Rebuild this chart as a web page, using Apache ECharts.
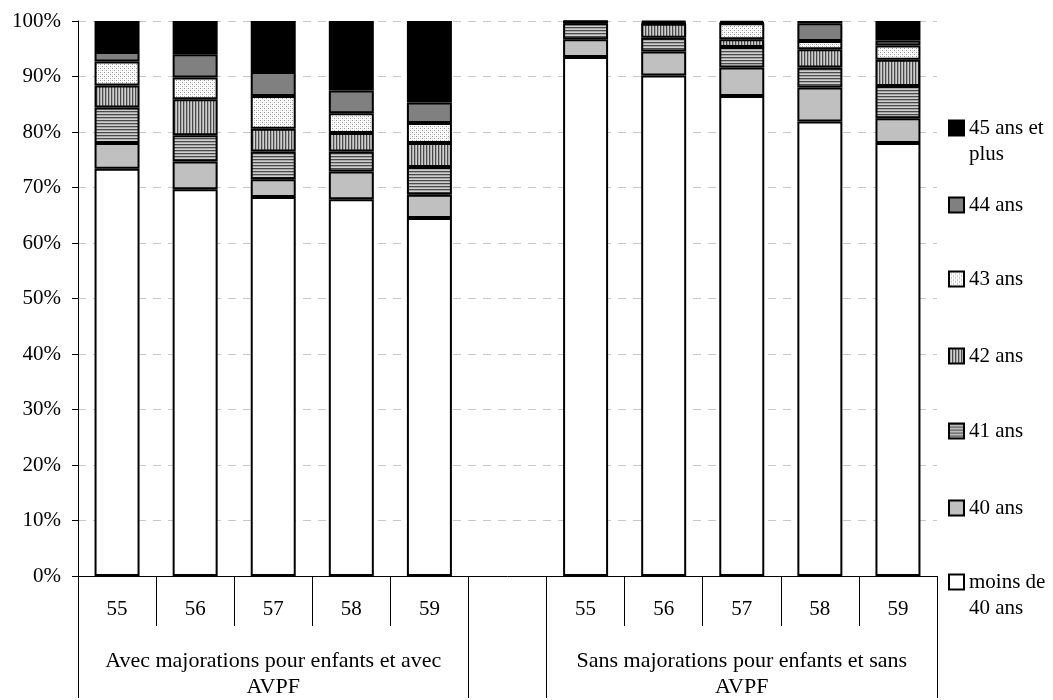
<!DOCTYPE html>
<html>
<head>
<meta charset="utf-8">
<script src="https://cdn.jsdelivr.net/npm/echarts@6/dist/echarts.min.js"></script>
<style>
html,body{margin:0;padding:0;background:#fff;}
#chart{width:1053px;height:700px;}
</style>
</head>
<body>
<div id="chart"></div>
<script>
// ---- data ----
const ageCats = ['55', '56', '57', '58', '59'];
const groupNames = ['Avec majorations pour enfants et avec\nAVPF', 'Sans majorations pour enfants et sans\nAVPF'];
const seriesNames = ['moins de 40 ans', '40 ans', '41 ans', '42 ans', '43 ans', '44 ans', '45 ans et plus'];
const legendLabels = ['moins de\n40 ans', '40 ans', '41 ans', '42 ans', '43 ans', '44 ans', '45 ans et\nplus'];
const yTickLabels = ['0%', '10%', '20%', '30%', '40%', '50%', '60%', '70%', '80%', '90%', '100%'];
// values in %, 5 "avec" bars then 5 "sans" bars
const vMoins40 = [73.4, 69.7, 68.3, 67.9, 64.5, 93.5, 90.2, 86.5, 81.9, 78.0];
const v40 = [4.6, 5.0, 3.2, 5.0, 4.2, 3.2, 4.3, 5.1, 6.1, 4.5];
const v41 = [6.4, 4.7, 5.0, 3.6, 5.0, 2.9, 2.5, 3.7, 3.6, 5.8];
const v42 = [4.0, 6.5, 4.1, 3.3, 4.3, 0.2, 2.5, 1.4, 3.3, 4.7];
const v43 = [4.3, 3.9, 5.9, 3.6, 3.6, 0.0, 0.1, 2.9, 1.5, 2.6];
const v44 = [1.7, 4.2, 4.3, 4.1, 3.7, 0.1, 0.2, 0.1, 3.2, 0.9];
const v45 = [5.6, 6.0, 9.2, 12.5, 14.7, 0.1, 0.2, 0.3, 0.4, 3.5];
const seriesValues = [vMoins40, v40, v41, v42, v43, v44, v45];

// ---- build axis / series data ----
const slotIds = [];
const slotLabels = [];
const groupSlotLabels = [];
ageCats.forEach((a, i) => { slotIds.push('g0_' + a); slotLabels.push(a); groupSlotLabels.push(i === 2 ? groupNames[0] : ''); });
slotIds.push('gap'); slotLabels.push(''); groupSlotLabels.push('');
ageCats.forEach((a, i) => { slotIds.push('g1_' + a); slotLabels.push(a); groupSlotLabels.push(i === 2 ? groupNames[1] : ''); });

function toSlots(arr) {
  return arr.slice(0, 5).concat(['-']).concat(arr.slice(5, 10));
}

function makePattern(w, h, draw) {
  const c = document.createElement('canvas');
  c.width = w; c.height = h;
  const ctx = c.getContext('2d');
  draw(ctx);
  return { image: c, repeat: 'repeat' };
}
const dotPattern = makePattern(4, 4, ctx => {
  ctx.fillStyle = '#ffffff'; ctx.fillRect(0, 0, 4, 4);
  ctx.fillStyle = '#999999'; ctx.fillRect(0, 0, 1, 1); ctx.fillRect(2, 2, 1, 1);
  ctx.fillStyle = '#d8d8d8'; ctx.fillRect(2, 0, 1, 1); ctx.fillRect(0, 2, 1, 1);
});
const vStripe = makePattern(3, 1, ctx => {
  ctx.fillStyle = '#4a4a4a'; ctx.fillRect(0, 0, 1, 1);
  ctx.fillStyle = '#a8a8a8'; ctx.fillRect(1, 0, 1, 1);
  ctx.fillStyle = '#cfcfcf'; ctx.fillRect(2, 0, 1, 1);
});
const hStripe = makePattern(1, 3, ctx => {
  ctx.fillStyle = '#4a4a4a'; ctx.fillRect(0, 0, 1, 1);
  ctx.fillStyle = '#a8a8a8'; ctx.fillRect(0, 1, 1, 1);
  ctx.fillStyle = '#cfcfcf'; ctx.fillRect(0, 2, 1, 1);
});
const fills = ['#ffffff', '#c0c0c0', hStripe, vStripe, dotPattern, '#808080', '#000000'];

const FONT = "'Liberation Serif', 'Times New Roman', serif";
const FS = 21;

const series = seriesNames.map((n, i) => ({
  name: n,
  type: 'bar',
  stack: 'total',
  barWidth: 45,
  xAxisIndex: 0,
  itemStyle: { color: fills[i], borderColor: '#000', borderWidth: 2 },
  emphasis: { disabled: true },
  data: toSlots(seriesValues[i])
}));

// legend: one component per item, icon centres (layout)
const legendCenters = [582, 508, 431, 356, 279, 205, 128];
const legends = seriesNames.map((n, i) => {
  const multi = legendLabels[i].indexOf('\n') >= 0;
  return {
    data: [n],
    orient: 'vertical',
    left: 948,
    top: legendCenters[i] - (multi ? 39 : 13),
    padding: 0,
    itemWidth: 15,
    itemHeight: 15,
    icon: 'rect',
    selectedMode: false,
    // leading blank line keeps the icon level with the first text line
    formatter: () => (multi ? '\n' : '') + legendLabels[i],
    textStyle: { fontFamily: FONT, fontSize: FS, color: '#000', lineHeight: 26 }
  };
});

const chart = echarts.init(document.getElementById('chart'), null, { renderer: 'canvas' });
chart.setOption({
  animation: false,
  backgroundColor: '#fff',
  grid: { left: 78, right: 116, top: 21, bottom: 122, containLabel: false },
  legend: legends,
  xAxis: [
    {
      type: 'category',
      data: slotIds,
      position: 'bottom',
      axisLine: { show: true, lineStyle: { color: '#000', width: 1 } },
      axisTick: { show: true, interval: 0, length: 50, lineStyle: { color: '#000', width: 1 } },
      axisLabel: {
        interval: 0, margin: 23, fontFamily: FONT, fontSize: FS, color: '#000',
        formatter: (v, i) => slotLabels[i]
      },
      splitLine: { show: false }
    },
    {
      type: 'category',
      data: slotIds,
      position: 'bottom',
      offset: 0,
      axisLine: { show: false },
      axisTick: {
        show: true, length: 122, lineStyle: { color: '#000', width: 1 },
        interval: (idx) => idx === 0 || idx === 5 || idx === 6
      },
      axisLabel: {
        interval: 0, margin: 72, fontFamily: FONT, fontSize: 22, color: '#000',
        lineHeight: 26, align: 'center',
        formatter: (v, i) => groupSlotLabels[i]
      },
      splitLine: { show: false }
    }
  ],
  yAxis: {
    type: 'value',
    min: 0, max: 100, interval: 10,
    axisLine: { show: true, lineStyle: { color: '#000', width: 1 } },
    axisTick: { show: true, length: 6, lineStyle: { color: '#000' } },
    axisLabel: {
      margin: 17, fontFamily: FONT, fontSize: FS, color: '#000',
      formatter: (v) => yTickLabels[Math.round(v / 10)]
    },
    splitLine: { show: true, lineStyle: { color: '#c8c8c8', width: 1, type: [8, 7] } }
  },
  series: series
});
</script>
</body>
</html>
